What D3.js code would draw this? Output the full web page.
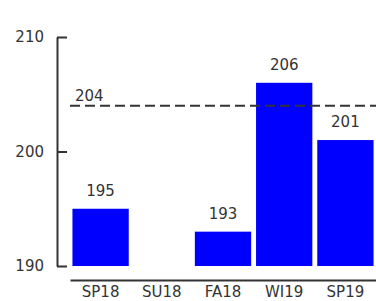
<!DOCTYPE html>
<html>
<head>
<meta charset="utf-8">
<script src="https://cdn.jsdelivr.net/npm/d3@7"></script>
<style>
  body { margin: 0; background: #fff; }
  text { font-family: "DejaVu Sans", sans-serif; fill: #333; }
</style>
</head>
<body>
<div id="chart"></div>
<script>
// chart data
const TERMS = ["SP18", "SU18", "FA18", "WI19", "SP19"];
const SCORES = [195, null, 193, 206, 201];
const Y_TICKS = [190, 200, 210];
const AVERAGE = 204;

const FRAME_WIDTH = 376;
const FRAME_HEIGHT = 301;

const FRAME = d3.select("#chart")
                .append("svg")
                  .attr("width", FRAME_WIDTH)
                  .attr("height", FRAME_HEIGHT);

// scales
const X_SCALE = d3.scaleBand()
                  .domain(TERMS)
                  .range([70, 376])
                  .paddingInner(0.08)
                  .paddingOuter(0.04);

const Y_SCALE = d3.scaleLinear()
                  .domain([190, 210])
                  .range([266, 37]);

// bars (skip missing terms)
const bars = TERMS.map((t, i) => ({term: t, value: SCORES[i]}))
                  .filter(d => d.value !== null);

FRAME.selectAll(".bar")
     .data(bars)
     .enter().append("rect")
       .attr("class", "bar")
       .attr("x", d => X_SCALE(d.term))
       .attr("y", d => Y_SCALE(d.value))
       .attr("width", X_SCALE.bandwidth())
       .attr("height", d => Y_SCALE(190) - Y_SCALE(d.value))
       .attr("fill", "#0000ff");

// value labels
FRAME.selectAll(".label")
     .data(bars)
     .enter().append("text")
       .attr("class", "label")
       .attr("x", d => X_SCALE(d.term) + X_SCALE.bandwidth() / 2)
       .attr("y", d => Y_SCALE(d.value) - 13)
       .attr("text-anchor", "middle")
       .attr("font-size", 15)
       .text(d => d.value);

// average line
FRAME.append("line")
     .attr("x1", 70)
     .attr("x2", FRAME_WIDTH)
     .attr("y1", Y_SCALE(AVERAGE))
     .attr("y2", Y_SCALE(AVERAGE))
     .attr("stroke", "#333")
     .attr("stroke-width", 2)
     .attr("stroke-dasharray", "10,5");

FRAME.append("text")
     .attr("x", 75)
     .attr("y", Y_SCALE(AVERAGE) - 5)
     .attr("font-size", 15)
     .text(AVERAGE);

// y axis, ticks pointing inward
const yAxis = FRAME.append("g")
     .attr("transform", "translate(57,0)")
     .call(d3.axisLeft(Y_SCALE)
             .tickValues(Y_TICKS)
             .tickSizeInner(-10)
             .tickSizeOuter(0)
             .tickPadding(13));

// x axis, offset below the bars
const xAxis = FRAME.append("g")
     .attr("transform", "translate(0,280)")
     .call(d3.axisBottom(X_SCALE).tickSize(0).tickPadding(6));

[yAxis, xAxis].forEach(ax => {
  ax.selectAll("path, line").attr("stroke", "#333").attr("stroke-width", 2);
  ax.selectAll("text").attr("font-size", 15)
    .attr("font-family", "DejaVu Sans, sans-serif").attr("fill", "#333");
});
</script>
</body>
</html>
